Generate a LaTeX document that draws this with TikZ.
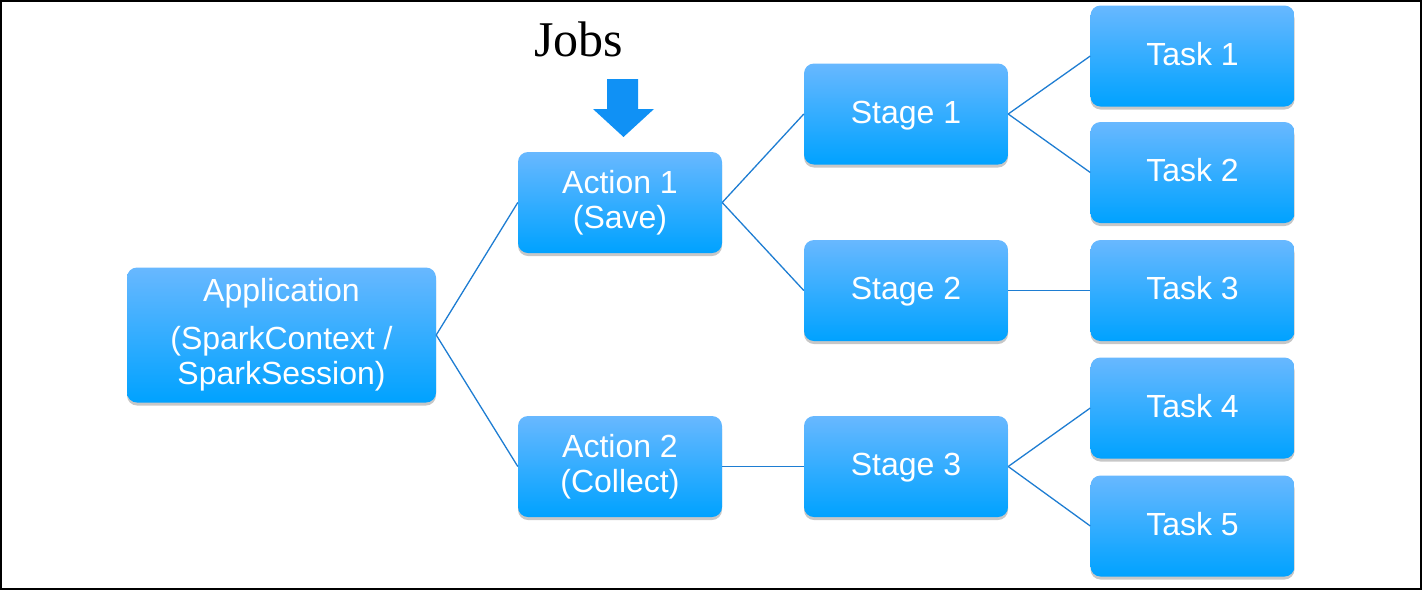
\documentclass[tikz,border=0pt]{standalone}
\usepackage{fontspec}
\setmainfont{Liberation Sans}
\newfontfamily\serifjobs{Liberation Serif}
\usetikzlibrary{shadows}
\definecolor{boxtop}{RGB}{104,184,255}
\definecolor{boxbot}{RGB}{0,162,255}
\definecolor{linkblue}{RGB}{30,125,210}
\definecolor{arrowblue}{RGB}{16,145,245}
\tikzset{
  box/.style={rectangle, rounded corners=10pt, inner sep=0pt,
    top color=boxtop, bottom color=boxbot, draw=none,
    text=white, align=center,
    font=\fontsize{32}{35}\selectfont,
    minimum width=204pt, minimum height=101pt,
    drop shadow={shadow xshift=0pt, shadow yshift=-3pt, opacity=0.22, fill=black}},
  onebox/.style={box, text height=22pt, text depth=4pt},
  link/.style={draw=linkblue, line width=1.3pt}
}
\begin{document}
\begin{tikzpicture}[x=1pt,y=-1pt]
\useasboundingbox (0,0) rectangle (1422,590);
\draw[line width=2.2pt] (1,1) rectangle (1421,589);

\node[box, minimum width=309pt, minimum height=135pt] (app) at (281.5,335)
  {Application\\[13pt](SparkContext /\\SparkSession)};
\node[box] (a1) at (620,202.5) {Action 1\\(Save)};
\node[box] (a2) at (620,466.5) {Action 2\\(Collect)};
\node[onebox] (s1) at (906,114) {Stage 1};
\node[onebox] (s2) at (906,290.5) {Stage 2};
\node[onebox] (s3) at (906,466.5) {Stage 3};
\node[onebox] (t1) at (1192.5,56) {Task 1};
\node[onebox] (t2) at (1192.5,172.5) {Task 2};
\node[onebox] (t3) at (1192.5,290.5) {Task 3};
\node[onebox] (t4) at (1192.5,408) {Task 4};
\node[onebox] (t5) at (1192.5,526) {Task 5};

\draw[link] (app.east) -- (a1.west);
\draw[link] (app.east) -- (a2.west);
\draw[link] (a1.east) -- (s1.west);
\draw[link] (a1.east) -- (s2.west);
\draw[link] (a2.east) -- (s3.west);
\draw[link] (s1.east) -- (t1.west);
\draw[link] (s1.east) -- (t2.west);
\draw[link] (s2.east) -- (t3.west);
\draw[link] (s3.east) -- (t4.west);
\draw[link] (s3.east) -- (t5.west);

\node[font=\serifjobs\fontsize{50}{52}\selectfont, anchor=base] (jobs) at (579,56) {Jobs};
\fill[arrowblue] (607,79) -- (638,79) -- (638,109) -- (654,109) -- (623.5,137)
  -- (593,109) -- (607,109) -- cycle;
\end{tikzpicture}
\end{document}
